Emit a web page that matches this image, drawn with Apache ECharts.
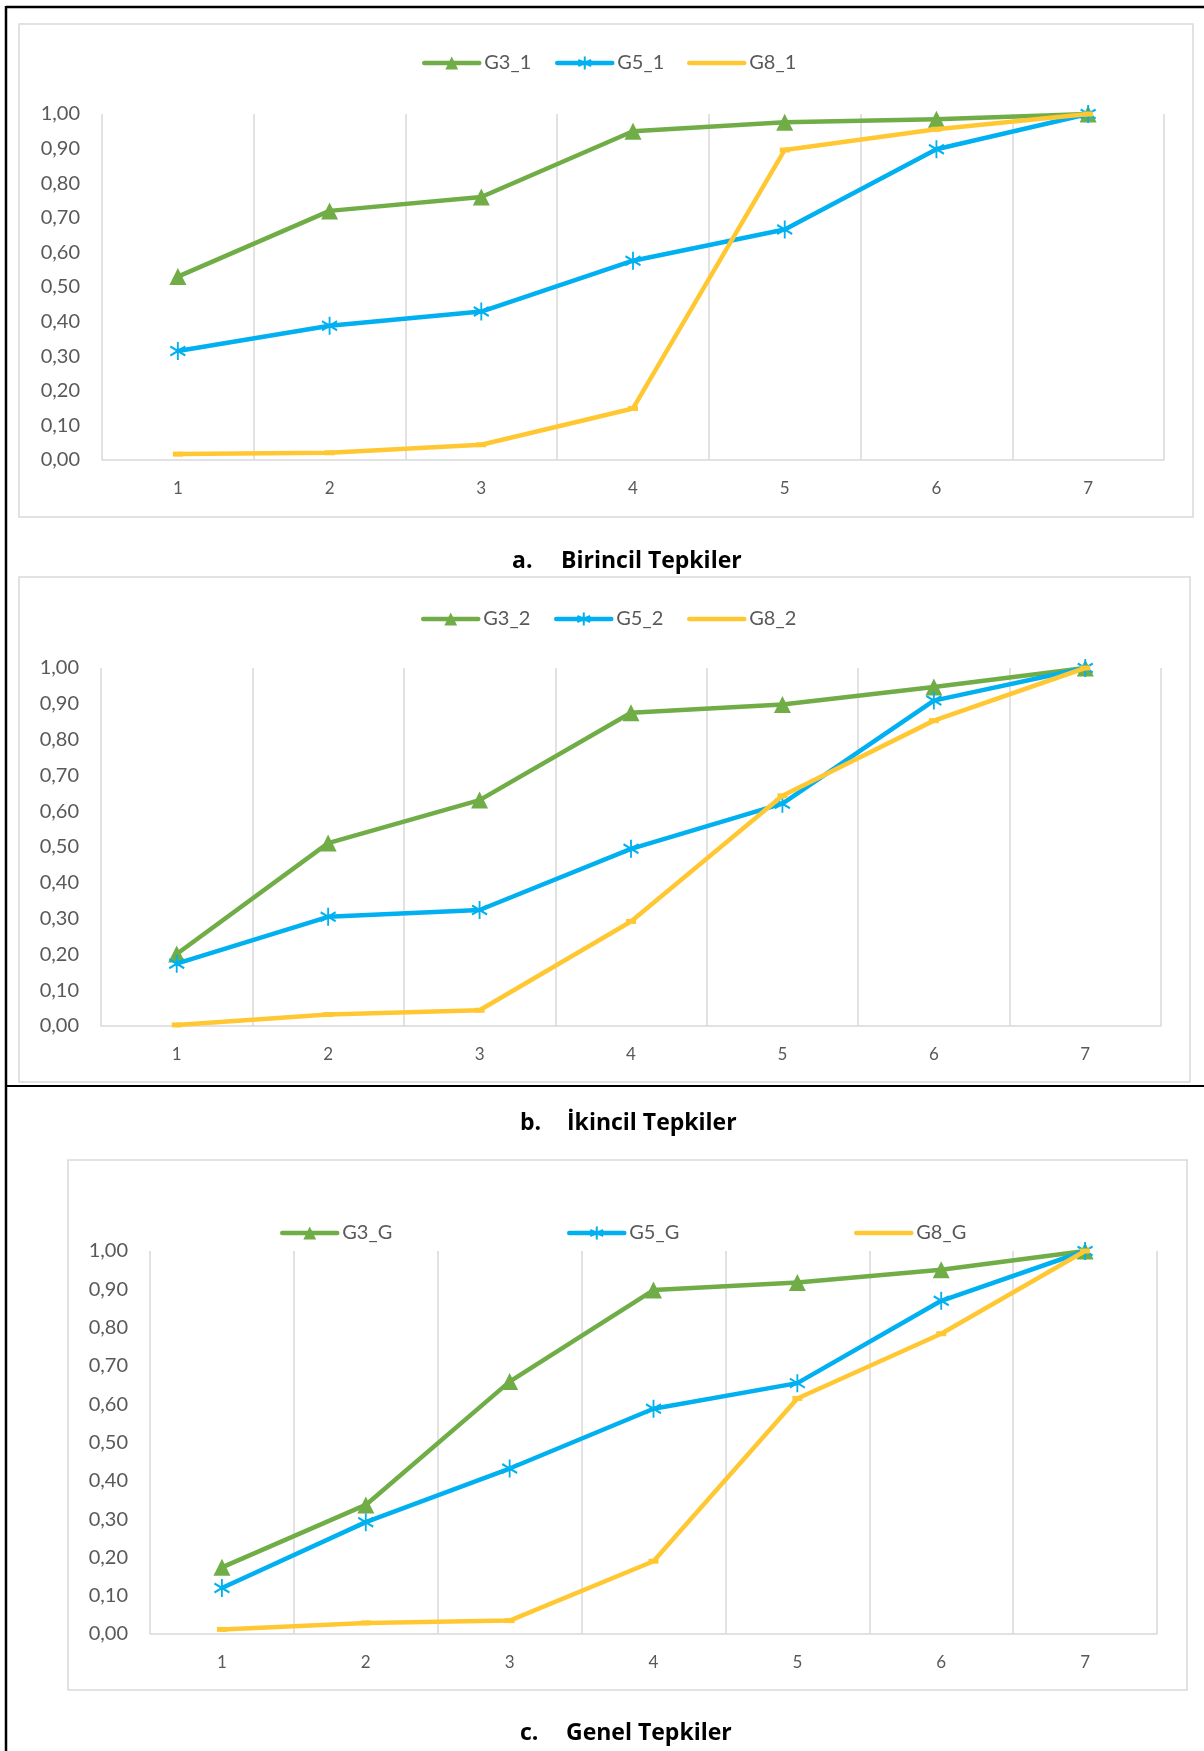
<!DOCTYPE html>
<html>
<head>
<meta charset="utf-8">
<script src="https://cdn.jsdelivr.net/npm/echarts@6/dist/echarts.min.js"></script>
<style>
html,body{margin:0;padding:0;background:#fff;}
#chart{width:1204px;height:1751px;}
</style>
</head>
<body>
<div id="chart"></div>
<script>
// ---- data ----
const categories = ['1', '2', '3', '4', '5', '6', '7'];

const g3_1 = [0.53, 0.72, 0.76, 0.95, 0.976, 0.985, 1.00];
const g5_1 = [0.315, 0.388, 0.429, 0.576, 0.666, 0.898, 1.00];
const g8_1 = [0.017, 0.021, 0.044, 0.149, 0.896, 0.956, 1.00];

const g3_2 = [0.201, 0.511, 0.631, 0.875, 0.898, 0.947, 1.00];
const g5_2 = [0.174, 0.305, 0.324, 0.495, 0.621, 0.909, 1.00];
const g8_2 = [0.003, 0.032, 0.044, 0.292, 0.643, 0.853, 1.00];

const g3_G = [0.174, 0.337, 0.659, 0.898, 0.918, 0.951, 1.00];
const g5_G = [0.120, 0.292, 0.432, 0.588, 0.655, 0.870, 1.00];
const g8_G = [0.012, 0.029, 0.035, 0.190, 0.615, 0.784, 1.00];

const names = [
  ['G3_1', 'G5_1', 'G8_1'],
  ['G3_2', 'G5_2', 'G8_2'],
  ['G3_G', 'G5_G', 'G8_G']
];
const titles = [
  ['a.', 'Birincil Tepkiler'],
  ['b.', 'İkincil Tepkiler'],
  ['c.', 'Genel Tepkiler']
];
const panels = [[g3_1, g5_1, g8_1], [g3_2, g5_2, g8_2], [g3_G, g5_G, g8_G]];

// ---- layout ----
const grids = [
  { left: 102, top: 114, width: 1062, height: 346 },
  { left: 101, top: 668, width: 1060, height: 358 },
  { left: 150, top: 1251, width: 1007, height: 383 }
];
const legendPos = [
  { y: 61, xs: [422, 555, 687] },
  { y: 617, xs: [421, 554, 687] },
  { y: 1231, xs: [280, 567, 854] }
];
const titlePos = [
  { y: 561, x1: 512, x2: 561 },
  { y: 1123, x1: 520, x2: 567 },
  { y: 1733, x1: 520, x2: 566 }
];
const frames = [
  { x: 19, y: 24, w: 1174, h: 493 },
  { x: 19, y: 577, w: 1171, h: 505 },
  { x: 68, y: 1160, w: 1119, h: 530 }
];

const GREEN = '#70AD47', BLUE = '#00B0F0', YELLOW = '#FFC833';
const GRID_C = '#D9D9D9', TXT = '#595959';
const FONT = 'Lato';
const STAR = 'path://M0,-1 L0,1 M-0.866,-0.5 L0.866,0.5 M-0.866,0.5 L0.866,-0.5';
const COLORS = [GREEN, BLUE, YELLOW];

const chart = echarts.init(document.getElementById('chart'), null, { renderer: 'canvas' });

const xAxis = [], yAxis = [], series = [], legend = [], graphic = [];

grids.forEach((g, i) => {
  xAxis.push({
    type: 'category', gridIndex: i, data: categories, boundaryGap: true,
    axisLine: { show: true, lineStyle: { color: GRID_C, width: 1.5 } },
    axisTick: { show: false },
    splitLine: { show: true, interval: 0, lineStyle: { color: GRID_C, width: 1.5 } },
    axisLabel: { color: TXT, fontFamily: FONT, fontSize: 17, margin: 20 }
  });
  yAxis.push({
    type: 'value', gridIndex: i, min: 0, max: 1, interval: 0.1,
    axisLine: { show: false }, axisTick: { show: false },
    splitLine: { show: false },
    axisLabel: {
      color: TXT, fontFamily: FONT, fontSize: 20, margin: 22,
      formatter: v => v.toFixed(2).replace('.', ',')
    }
  });
  const [d3, d5, d8] = panels[i];
  const nm = names[i];
  series.push({
    name: nm[0], type: 'line', xAxisIndex: i, yAxisIndex: i, data: d3,
    symbol: 'triangle', symbolSize: 17,
    lineStyle: { color: GREEN, width: 4.5, cap: 'round', join: 'round' },
    itemStyle: { color: GREEN, borderWidth: 0 },
    animation: false, z: 2
  });
  series.push({
    name: nm[1], type: 'line', xAxisIndex: i, yAxisIndex: i, data: d5,
    symbol: STAR, symbolSize: [15, 18],
    lineStyle: { color: BLUE, width: 4.5, cap: 'round', join: 'round' },
    itemStyle: { color: BLUE, borderColor: BLUE, borderWidth: 2 },
    animation: false, z: 3
  });
  series.push({
    name: nm[2], type: 'line', xAxisIndex: i, yAxisIndex: i, data: d8,
    symbol: 'rect', symbolSize: [10, 5],
    lineStyle: { color: YELLOW, width: 4.5, cap: 'round', join: 'round' },
    itemStyle: { color: YELLOW, borderWidth: 0 },
    animation: false, z: 4
  });
  legendPos[i].xs.forEach((lx, k) => {
    const item = { name: nm[k] };
    if (k === 2) item.itemStyle = { opacity: 0 };
    legend.push({
      data: [item], left: lx, top: legendPos[i].y - 8,
      itemWidth: 55, itemHeight: 16, padding: 0,
      selectedMode: false,
      lineStyle: { width: 4.5, color: COLORS[k], cap: 'round' },
      textStyle: { color: TXT, fontFamily: FONT, fontSize: 20 }
    });
  });
  // frame
  const f = frames[i];
  graphic.push({
    type: 'rect', shape: { x: f.x, y: f.y, width: f.w, height: f.h },
    style: { fill: 'none', stroke: GRID_C, lineWidth: 1.5 }, z: -10, silent: true
  });
  // titles
  const t = titlePos[i];
  graphic.push({
    type: 'text', x: t.x1, y: t.y,
    style: { text: titles[i][0], font: 'bold 23px "Open Sans"', fill: '#000', verticalAlign: 'middle' }
  });
  graphic.push({
    type: 'text', x: t.x2, y: t.y,
    style: { text: titles[i][1], font: 'bold 23px "Open Sans"', fill: '#000', verticalAlign: 'middle' }
  });
});

// page border lines
graphic.push({ type: 'line', shape: { x1: 6, y1: 7, x2: 1204, y2: 7 }, style: { stroke: '#000', lineWidth: 2.5 }, silent: true });
graphic.push({ type: 'line', shape: { x1: 6, y1: 6, x2: 6, y2: 1751 }, style: { stroke: '#000', lineWidth: 2.5 }, silent: true });
graphic.push({ type: 'line', shape: { x1: 6, y1: 1086, x2: 1204, y2: 1086 }, style: { stroke: '#000', lineWidth: 2 }, silent: true });

chart.setOption({
  animation: false,
  backgroundColor: '#fff',
  grid: grids.map(g => Object.assign({ containLabel: false }, g)),
  xAxis, yAxis, series, legend, graphic
});
</script>
</body>
</html>
